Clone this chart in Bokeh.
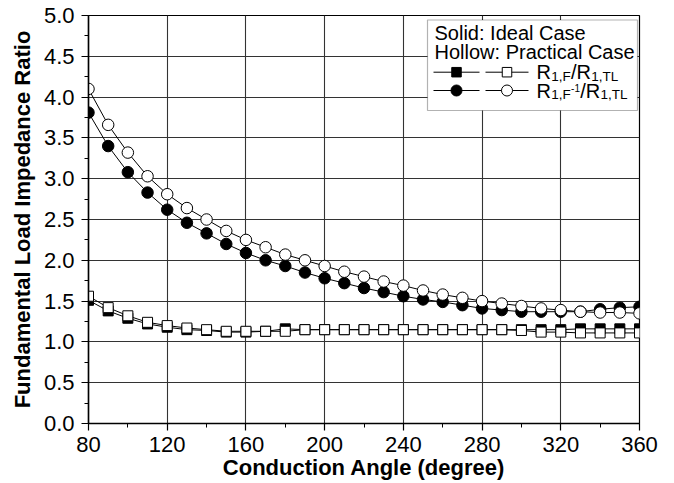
from bokeh.plotting import figure
from bokeh.models import Range1d, FixedTicker, PrintfTickFormatter, Label, BoxAnnotation
from bokeh.embed import file_html
from bokeh.resources import INLINE

# Conduction angle (degree)
angle = [80, 90, 100, 110, 120, 130, 140, 150, 160, 170, 180, 190, 200, 210, 220,
         230, 240, 250, 260, 270, 280, 290, 300, 310, 320, 330, 340, 350, 360]

# R1,F / R1,TL
rf_ideal = [1.51, 1.38, 1.29, 1.22, 1.18, 1.15, 1.14, 1.12, 1.12, 1.13, 1.16, 1.15, 1.15, 1.15, 1.15,
            1.15, 1.15, 1.15, 1.15, 1.15, 1.15, 1.15, 1.15, 1.15, 1.15, 1.16, 1.16, 1.16, 1.16]
rf_practical = [1.56, 1.42, 1.32, 1.24, 1.20, 1.17, 1.15, 1.13, 1.13, 1.13, 1.13, 1.15, 1.15, 1.15, 1.15,
                1.15, 1.15, 1.15, 1.15, 1.15, 1.15, 1.15, 1.14, 1.12, 1.12, 1.11, 1.11, 1.11, 1.11]

# R1,F-1 / R1,TL
rfi_ideal = [3.81, 3.40, 3.08, 2.83, 2.62, 2.46, 2.33, 2.20, 2.09, 2.00, 1.93, 1.85, 1.78, 1.72, 1.66,
             1.61, 1.56, 1.52, 1.49, 1.45, 1.41, 1.39, 1.37, 1.37, 1.37, 1.37, 1.40, 1.42, 1.43]
rfi_practical = [4.10, 3.66, 3.32, 3.03, 2.81, 2.64, 2.50, 2.36, 2.25, 2.16, 2.07, 2.00, 1.93, 1.86, 1.80,
                 1.74, 1.69, 1.63, 1.58, 1.54, 1.50, 1.47, 1.44, 1.41, 1.39, 1.37, 1.36, 1.36, 1.35]

x_major = [80, 120, 160, 200, 240, 280, 320, 360]
x_minor = [100, 140, 180, 220, 260, 300, 340]
y_major = [0.0, 0.5, 1.0, 1.5, 2.0, 2.5, 3.0, 3.5, 4.0, 4.5, 5.0]
y_minor = [0.25, 0.75, 1.25, 1.75, 2.25, 2.75, 3.25, 3.75, 4.25, 4.75]

FONT = "Liberation Sans"
W, H = 674, 483
LEFT, RIGHT, TOP, BOTTOM = 88, 35, 15, 60
SQ, CI = 10, 11.5

p = figure(width=W, height=H, output_backend="svg", toolbar_location=None,
           x_range=Range1d(80, 360), y_range=Range1d(0, 5),
           min_border_left=LEFT, min_border_right=RIGHT,
           min_border_top=TOP, min_border_bottom=BOTTOM)
p.background_fill_color = "white"
p.border_fill_color = "white"
p.outline_line_color = "black"
p.outline_line_width = 1.2

p.xaxis.ticker = FixedTicker(ticks=x_major, minor_ticks=x_minor)
p.yaxis.ticker = FixedTicker(ticks=y_major, minor_ticks=y_minor)
p.yaxis.formatter = PrintfTickFormatter(format="%.1f")
p.xaxis.axis_label = "Conduction Angle (degree)"
p.yaxis.axis_label = "Fundamental Load Impedance Ratio"

for ax in (p.xaxis, p.yaxis):
    ax.axis_line_color = "black"
    ax.axis_line_width = 1.5
    ax.major_tick_line_color = "black"
    ax.minor_tick_line_color = "black"
    ax.major_tick_line_width = 1.2
    ax.minor_tick_line_width = 1.0
    ax.major_tick_out = 7
    ax.major_tick_in = 0
    ax.minor_tick_out = 4
    ax.minor_tick_in = 0
    ax.major_label_text_font = FONT
    ax.major_label_text_font_size = "22px"
    ax.major_label_text_color = "black"
    ax.axis_label_text_font = FONT
    ax.axis_label_text_font_style = "bold"
    ax.axis_label_text_font_size = "22px"
    ax.axis_label_text_color = "black"
p.xaxis.major_label_standoff = 6
p.yaxis.major_label_standoff = 7
p.xaxis.axis_label_standoff = 0
p.yaxis.axis_label_standoff = 6

for g in (p.xgrid, p.ygrid):
    g.grid_line_color = "#333333"
    g.grid_line_width = 1.1

# ideal (solid) series first, practical (hollow) drawn on top
p.line(angle, rf_ideal, line_color="black", line_width=1)
p.scatter(angle, rf_ideal, marker="square", size=SQ, fill_color="black", line_color="black")
p.line(angle, rfi_ideal, line_color="black", line_width=1)
p.scatter(angle, rfi_ideal, marker="circle", size=CI, fill_color="black", line_color="black")
p.line(angle, rf_practical, line_color="black", line_width=1)
p.scatter(angle, rf_practical, marker="square", size=SQ, fill_color="white", line_color="black", line_width=1)
p.line(angle, rfi_practical, line_color="black", line_width=1)
p.scatter(angle, rfi_practical, marker="circle", size=CI, fill_color="white", line_color="black", line_width=1)

# ---- legend, laid out in canvas pixels and mapped to data space ----
FL, FR, FT, FB = LEFT, W - RIGHT, TOP, H - BOTTOM
TEXT_SHIFT = -7  # baseline correction for Label text


def sx(px):
    return 80 + (px - FL) / (FR - FL) * (360 - 80)


def sy(py):
    return 0 + (FB - py) / (FB - FT) * (5 - 0)


box = BoxAnnotation(left=sx(427), right=sx(637), top=sy(19.5), bottom=sy(110),
                    fill_color="white", fill_alpha=1.0, line_color="black", line_width=1.2,
                    level="underlay")
p.add_layout(box)


def text(px, py, s, size):
    p.add_layout(Label(x=sx(px), y=sy(py + TEXT_SHIFT), text=s, text_font=FONT,
                       text_font_size=f"{size}px", text_color="black",
                       text_baseline="alphabetic", text_align="left"))


text(434, 39, "Solid: Ideal Case", 20)
text(434, 58.5, "Hollow: Practical Case", 20)

# approximate advance widths of Liberation Sans (em units)
ADV = {"R": 0.722, "/": 0.278, "1": 0.556, ",": 0.278, "F": 0.611, "T": 0.611, "L": 0.556, "-": 0.333}


def runs(px, py, parts):
    for s, size, dy in parts:
        text(px, py + dy, s, size)
        px += sum(ADV[c] for c in s) * size + 0.3


for py_key, mk, label_parts in (
    (71.7, "square", [("R", 20, 0), ("1,F", 13.5, 4), ("/R", 20, 0), ("1,TL", 13.5, 4)]),
    (90.0, "circle", [("R", 20, 0), ("1,F", 13.5, 4), ("-1", 10, -3), ("/R", 20, 0), ("1,TL", 13.5, 4)]),
):
    msize = 9.5 if mk == "square" else 11
    for x0, x1, fill in ((433, 479, "black"), (485, 528, "white")):
        p.line([sx(x0), sx(x1)], [sy(py_key), sy(py_key)], line_color="black", line_width=1)
        p.scatter([sx((x0 + x1) / 2)], [sy(py_key)], marker=mk, size=msize,
                  fill_color=fill, line_color="black")
    runs(536, py_key + 7, label_parts)

open("out.html", "w").write(file_html(p, INLINE))
